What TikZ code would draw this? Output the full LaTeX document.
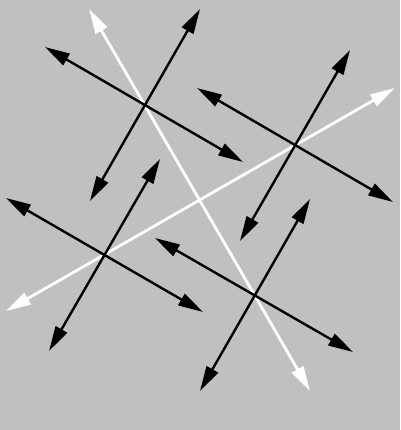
\documentclass[tikz,border=0pt]{standalone}
\usepackage{tikz}
\usetikzlibrary{arrows.meta}

\definecolor{bggray}{HTML}{C0C0C0}

\begin{document}
\begin{tikzpicture}[x=1pt,y=-1pt,>={Triangle[length=25pt,width=13pt]}]
        \tikzstyle{blackline} = [draw=black,line width=2.4pt,<->]
        \tikzstyle{whiteline} = [draw=white,line width=2.8pt,<->]
        \fill[bggray] (0,0) rectangle (400,430);

        % white lines
        \coordinate (w0) at (89,9);
        \coordinate (w1) at (310,391);
        \coordinate (w2) at (395,88);
        \coordinate (w3) at (6,311);

        % black crosses
        \coordinate (0) at (45,47);
        \coordinate (1) at (243,162);
        \coordinate (2) at (200,9);
        \coordinate (3) at (90,201);
        \coordinate (4) at (197,88);
        \coordinate (5) at (393,202);
        \coordinate (6) at (350,50);
        \coordinate (7) at (240,241);
        \coordinate (8) at (6,198);
        \coordinate (9) at (203,312);
        \coordinate (10) at (160,159);
        \coordinate (11) at (49,351);
        \coordinate (12) at (155,238);
        \coordinate (13) at (353,352);
        \coordinate (14) at (310,199);
        \coordinate (15) at (200,391);

        \foreach \from/\to in {w0/w1, w2/w3}
            \draw[whiteline] (\from) -- (\to);
        \foreach \from/\to in {0/1, 2/3, 4/5, 6/7, 8/9, 10/11, 12/13, 14/15}
            \draw[blackline] (\from) -- (\to);
      \end{tikzpicture}
\end{document}
